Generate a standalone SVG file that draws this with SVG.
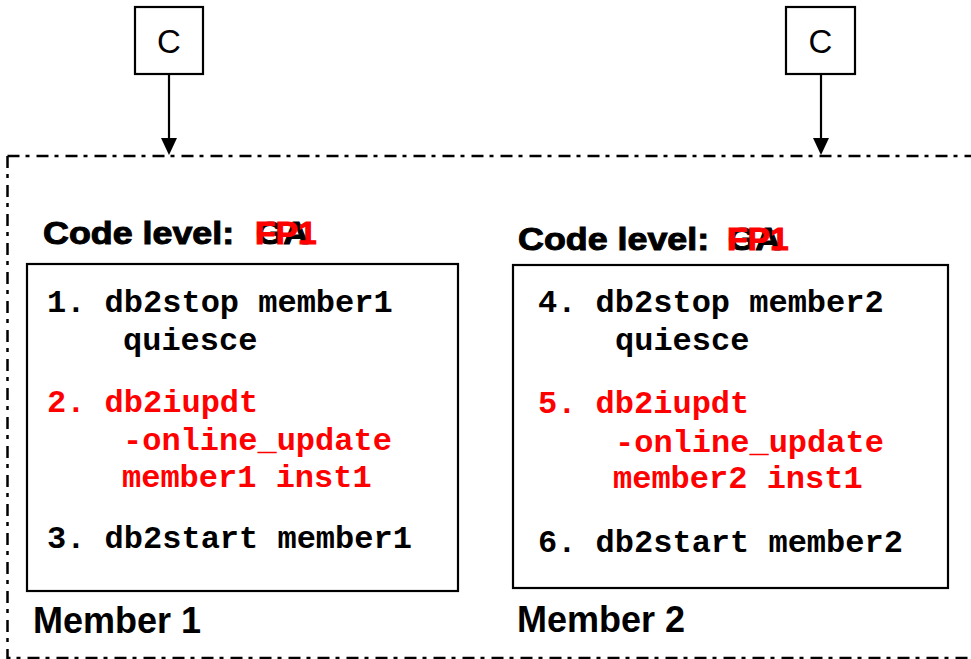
<svg xmlns="http://www.w3.org/2000/svg" width="971" height="659" viewBox="0 0 971 659">
<style>
.box{fill:#fff;stroke:#000;stroke-width:2.2}
.frame{fill:none;stroke:#000;stroke-width:2.5;stroke-dasharray:12 6 4 7}
.c{font-family:"Liberation Sans",Arial,sans-serif;font-size:33px;fill:#000;text-anchor:middle}
.lvl{font-family:"Liberation Sans",Arial,sans-serif;font-size:32px;font-weight:bold;fill:#000;stroke:#000;stroke-width:1}
.mem{font-family:"Liberation Sans",Arial,sans-serif;font-size:36px;font-weight:bold;fill:#000}
.code{font-family:"Liberation Mono","Courier New",monospace;font-size:32px;font-weight:bold;fill:#000}
.red{fill:#ff0000}
.lvl.red{stroke:#ff0000}
.conn{stroke:#000;stroke-width:2.2;fill:none}
</style>
<rect width="971" height="659" fill="#fff"/>
<g id="frame">
<path class="frame" d="M7.5,156 L990,156 M7.5,156 L7.5,658 L990,658"/>
</g>
<g id="clientA">
<rect class="box" x="135" y="7" width="68" height="67"/>
<text class="c" x="169" y="53">C</text>
</g>
<g id="clientB">
<rect class="box" x="786" y="7" width="69" height="67"/>
<text class="c" x="820.5" y="53">C</text>
</g>
<g id="connectors">
<line class="conn" x1="169" y1="74" x2="169" y2="140"/>
<path d="M161,138 L177,138 L169,155 Z" fill="#000"/>
<line class="conn" x1="821" y1="74" x2="821" y2="140"/>
<path d="M813,138 L829,138 L821,155 Z" fill="#000"/>
</g>
<g id="member1">
<text class="lvl" transform="translate(43,244) scale(1.12,1)">Code level:</text>
<text class="lvl" transform="translate(256,244) scale(1.1,1)">GA</text>
<text class="lvl red" transform="translate(255,244) scale(1.05,1)">FP1</text>
<rect class="box" x="27" y="264" width="431" height="327"/>
<text class="code" x="47" y="312">1. db2stop member1</text>
<text class="code" x="123" y="350">quiesce</text>
<text class="code red" x="47" y="412">2. db2iupdt</text>
<text class="code red" x="123" y="450">-online_update</text>
<text class="code red" x="122" y="487">member1 inst1</text>
<text class="code" x="47" y="548">3. db2start member1</text>
<text class="mem" x="33" y="633">Member 1</text>
</g>
<g id="member2">
<text class="lvl" transform="translate(518,250) scale(1.12,1)">Code level:</text>
<text class="lvl" transform="translate(728,250) scale(1.1,1)">GA</text>
<text class="lvl red" transform="translate(727,250) scale(1.05,1)">FP1</text>
<rect class="box" x="513" y="265" width="435" height="323"/>
<text class="code" x="538" y="312">4. db2stop member2</text>
<text class="code" x="615" y="350">quiesce</text>
<text class="code red" x="538" y="413">5. db2iupdt</text>
<text class="code red" x="615" y="452">-online_update</text>
<text class="code red" x="613" y="488">member2 inst1</text>
<text class="code" x="538" y="552">6. db2start member2</text>
<text class="mem" x="517" y="632">Member 2</text>
</g>
</svg>
